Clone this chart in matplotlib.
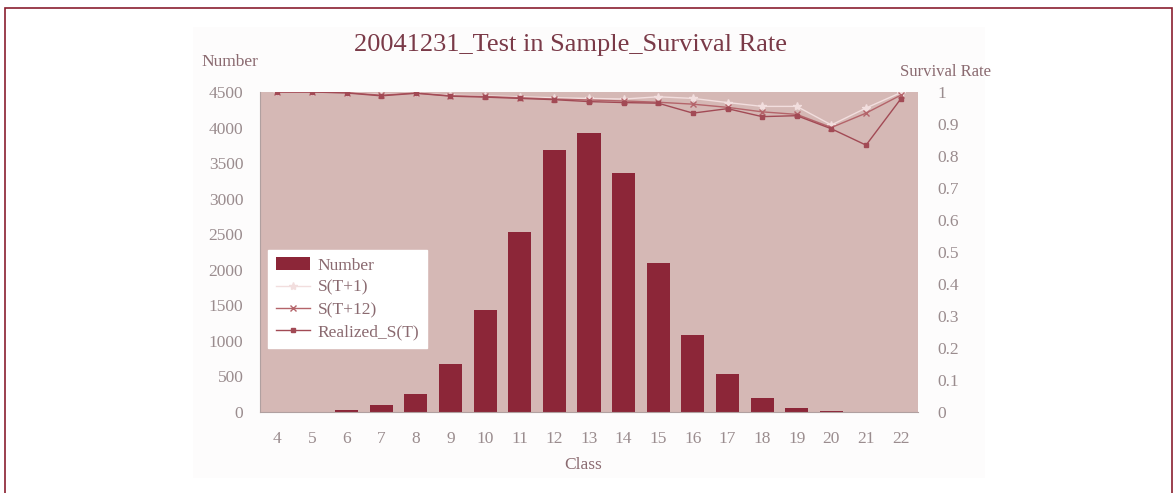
"""Survival rate chart: class counts (bars) with survival-rate lines on a twin axis."""

import matplotlib.pyplot as plt
from matplotlib.patches import Rectangle

plt.rcParams["font.family"] = ["Liberation Serif", "DejaVu Serif"]

# ---------------------------------------------------------------------------
# Data
# ---------------------------------------------------------------------------

classes = [str(c) for c in range(4, 23)]
number = [0, 3, 30, 100, 250, 680, 1430, 2530, 3680, 3930,
          3360, 2100, 1080, 530, 190, 60, 15, 0, 0]
s_t1 = [1.0, 1.0, 0.998, 0.992, 0.997, 0.990, 0.988, 0.985, 0.982, 0.980,
        0.978, 0.985, 0.980, 0.967, 0.955, 0.955, 0.897, 0.950, 0.998]
s_t12 = [1.0, 1.0, 0.998, 0.990, 0.997, 0.988, 0.986, 0.982, 0.978, 0.975,
         0.972, 0.968, 0.962, 0.952, 0.938, 0.930, 0.889, 0.934, 0.990]
realized = [1.0, 1.0, 0.997, 0.988, 0.996, 0.987, 0.984, 0.980, 0.976, 0.970,
            0.967, 0.965, 0.934, 0.948, 0.923, 0.926, 0.885, 0.834, 0.978]

left_ticks = list(range(0, 4501, 500))
right_ticks = [0, 0.1, 0.2, 0.3, 0.4, 0.5, 0.6, 0.7, 0.8, 0.9, 1]
right_labels = ["0", "0.1", "0.2", "0.3", "0.4", "0.5", "0.6", "0.7", "0.8", "0.9", "1"]

# ---------------------------------------------------------------------------
# Style
# ---------------------------------------------------------------------------

BAR = "#8c2638"
PLOT_BG = "#d5b8b5"
TEXT = "#8a6a70"
TICK = "#9a8c8e"
C_T1 = "#f2dede"
C_T12 = "#b4646a"
C_REAL = "#a24a55"

W, H = 1176, 493
fig = plt.figure(figsize=(W / 100, H / 100), dpi=100)

# outer frame and faint chart panel
fig.patches.append(Rectangle((5 / W, -0.05), 1167 / W, 1.05 - 8 / H,
                             transform=fig.transFigure, fill=False,
                             edgecolor="#8a1f30", linewidth=1.2))
fig.patches.append(Rectangle((193 / W, 1 - 478 / H), 792 / W, 451 / H,
                             transform=fig.transFigure, facecolor="#fdfcfc",
                             edgecolor="none", zorder=-1))

ax = fig.add_axes([260 / W, 1 - 412 / H, 658 / W, 320 / H])
ax.set_facecolor(PLOT_BG)

x = list(range(len(classes)))
ax.bar(x, number, width=0.67, color=BAR, label="Number", zorder=2)
ax.set_xlim(-0.5, len(classes) - 0.5)
ax.set_ylim(0, 4500)
ax.set_yticks(left_ticks)
ax.set_xticks(x, classes)
ax.tick_params(axis="both", length=0, colors=TICK, labelsize=12.5)
ax.tick_params(axis="x", pad=14)
ax.tick_params(axis="y", pad=12)
for sp in ax.spines.values():
    sp.set_visible(False)
ax.spines["left"].set_visible(True)
ax.spines["left"].set_color("#b0a0a0")
ax.spines["bottom"].set_visible(True)
ax.spines["bottom"].set_color("#b0a0a0")

ax2 = ax.twinx()
l1, = ax2.plot(x, s_t1, color=C_T1, marker="*", markersize=6,
               linewidth=1.0, label="S(T+1)")
l2, = ax2.plot(x, s_t12, color=C_T12, marker="x", markersize=5,
               linewidth=1.0, label="S(T+12)")
l3, = ax2.plot(x, realized, color=C_REAL, marker="s", markersize=3,
               linewidth=1.0, label="Realized_S(T)")
ax2.set_ylim(0, 1)
ax2.set_yticks(right_ticks, right_labels)
ax2.tick_params(axis="y", length=0, colors=TICK, labelsize=12.5, pad=14)
for sp in ax2.spines.values():
    sp.set_visible(False)

bars_handle = ax.containers[0]
leg = ax2.legend([bars_handle, l1, l2, l3],
                 ["Number", "S(T+1)", "S(T+12)", "Realized_S(T)"],
                 loc="lower left", bbox_to_anchor=(0.012, 0.2),
                 borderaxespad=0.0,
                 frameon=True, fancybox=False, framealpha=1.0,
                 edgecolor="white", facecolor="white",
                 fontsize=12.5, labelcolor=TEXT, handlelength=2.0,
                 borderpad=0.45, labelspacing=0.35, handletextpad=0.4)

fig.text(570 / W, 1 - 45 / H, "20041231_Test in Sample_Survival Rate",
         ha="center", va="center", fontsize=19, color="#7a3a48")
fig.text(230 / W, 1 - 62 / H, "Number", ha="center", va="center",
         fontsize=12.5, color=TEXT)
fig.text(945 / W, 1 - 72 / H, "Survival Rate", ha="center", va="center",
         fontsize=12, color=TEXT)
fig.text(583 / W, 1 - 465 / H, "Class", ha="center", va="center",
         fontsize=12.5, color=TEXT)

fig.savefig("out.png", dpi=100)
